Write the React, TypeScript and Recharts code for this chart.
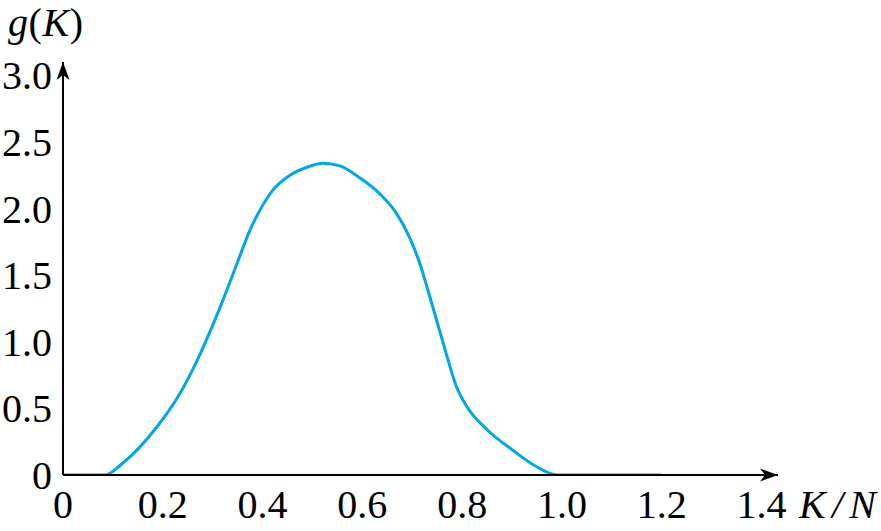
import React from 'react';
import { LineChart, Line, XAxis, YAxis } from 'recharts';

// K/N values and g(K)
const kOverN = [0, 0.05, 0.084, 0.12, 0.188, 0.234, 0.275, 0.315, 0.349, 0.375, 0.395, 0.421, 0.455, 0.489, 0.521, 0.555, 0.595, 0.635, 0.669, 0.695, 0.715, 0.735, 0.762, 0.789, 0.81, 0.85, 0.9, 0.95, 0.99, 1.1, 1.2];
const gValues = [0, 0, 0, 0.09, 0.36, 0.61, 0.91, 1.26, 1.59, 1.84, 1.99, 2.14, 2.25, 2.31, 2.34, 2.32, 2.23, 2.11, 1.96, 1.78, 1.59, 1.34, 0.99, 0.66, 0.51, 0.34, 0.19, 0.06, 0, 0, 0];

const xTicks = [0, 0.2, 0.4, 0.6, 0.8, 1.0, 1.2, 1.4];
const yTicks = [0, 0.5, 1.0, 1.5, 2.0, 2.5, 3.0];

const data = kOverN.map((k, i) => ({ k, g: gValues[i] }));

const FONT = '"Liberation Serif", "Times New Roman", serif';

const fmt = (v: number) => (v === 0 ? '0' : v.toFixed(1));

const XTick = (props: any) => {
  const { x, y, payload } = props;
  return (
    <text x={x} y={y + 43} textAnchor="middle" fontFamily={FONT} fontSize={40} fill="#000">
      {fmt(payload.value)}
    </text>
  );
};

const YTick = (props: any) => {
  const { x, y, payload } = props;
  return (
    <text x={x - 11} y={y + 14} textAnchor="end" fontFamily={FONT} fontSize={40} fill="#000">
      {fmt(payload.value)}
    </text>
  );
};

export default function App() {
  return (
    <div style={{ position: 'absolute', left: 0, top: 0, width: 881, height: 531, background: '#fff' }}>
      <LineChart width={881} height={531} data={data} margin={{ top: 62, right: 103, left: 0, bottom: 0 }}>
        <defs>
          <marker
            id="axisArrow"
            viewBox="-20 -8 21 16"
            refX={0}
            refY={0}
            markerWidth={21}
            markerHeight={16}
            markerUnits="userSpaceOnUse"
            orient="auto-start-reverse"
          >
            <path d="M0,0 L-18,-6.5 L-13,0 L-18,6.5 Z" fill="#000" />
          </marker>
        </defs>
        <XAxis
          dataKey="k"
          type="number"
          domain={[0, 1.433]}
          ticks={xTicks}
          height={56}
          tickLine={false}
          tickSize={0}
          tickMargin={0}
          tick={<XTick />}
          axisLine={{ stroke: '#000', strokeWidth: 2, markerEnd: 'url(#axisArrow)' }}
          allowDataOverflow
        />
        <YAxis
          type="number"
          domain={[0, 3.1]}
          ticks={yTicks}
          width={63}
          tickLine={false}
          tickSize={0}
          tickMargin={0}
          tick={<YTick />}
          axisLine={{ stroke: '#000', strokeWidth: 2, markerStart: 'url(#axisArrow)' }}
          allowDataOverflow
        />
        <Line
          type="monotone"
          dataKey="g"
          stroke="#00a6e6"
          strokeWidth={3}
          dot={false}
          activeDot={false}
          isAnimationActive={false}
        />
      </LineChart>
      <svg width={881} height={531} style={{ position: 'absolute', left: 0, top: 0, pointerEvents: 'none' }}>
        <text x={8} y={36} fontFamily={FONT} fontSize={40} fill="#000" textLength={75} lengthAdjust="spacing">
          <tspan fontStyle="italic">g</tspan>
          <tspan>(</tspan>
          <tspan fontStyle="italic">K</tspan>
          <tspan>)</tspan>
        </text>
        <text x={799} y={518} fontFamily={FONT} fontSize={40} fontStyle="italic" fill="#000" textLength={77} lengthAdjust="spacing">
          K/N
        </text>
      </svg>
    </div>
  );
}
